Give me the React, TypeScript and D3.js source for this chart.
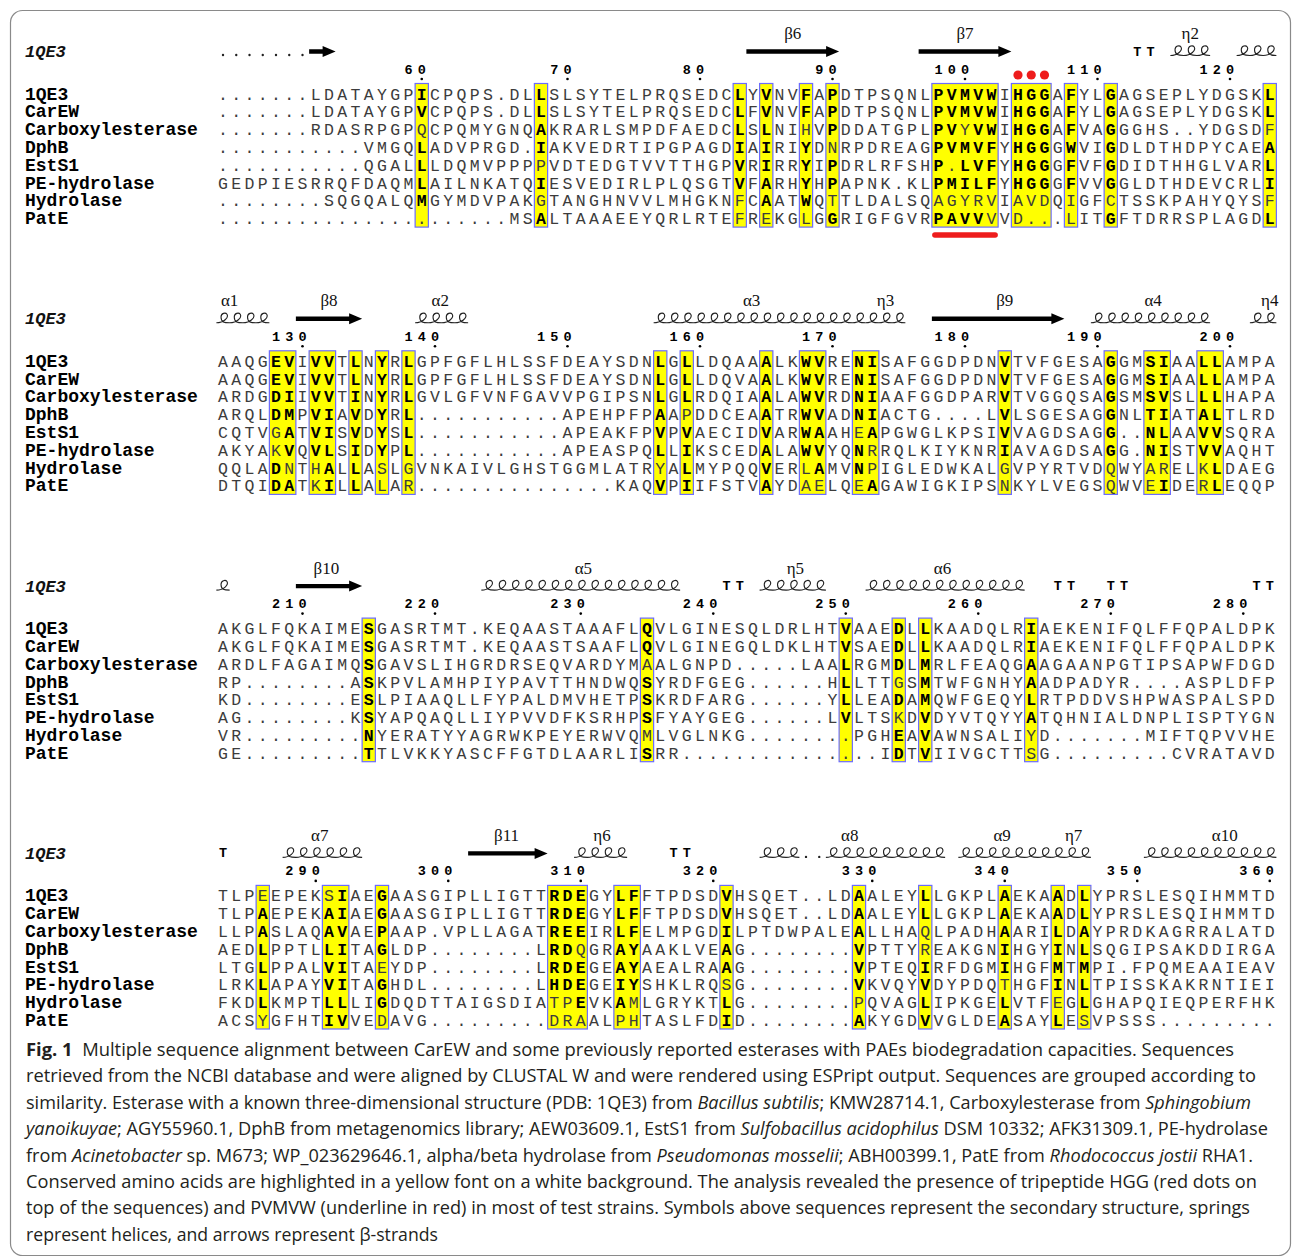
import React from "react";
import * as d3 from "d3";

// ---------- DATA ----------
const seqNames = ["1QE3", "CarEW", "Carboxylesterase", "DphB", "EstS1", "PE-hydrolase", "Hydrolase", "PatE"];

const block1Seqs = [
  ".......LDATAYGPICPQPS.DLLSLSYTELPRQSEDCLYVNVFAPDTPSQNLPVMVWIHGGAFYLGAGSEPLYDGSKL",
  ".......LDATAYGPVCPQPS.DLLSLSYTELPRQSEDCLFVNVFAPDTPSQNLPVMVWIHGGAFYLGAGSEPLYDGSKL",
  ".......RDASRPGPQCPQMYGNQAKRARLSMPDFAEDCLSLNIHVPDDATGPLPVYVWIHGGAFVAGGGHS..YDGSDF",
  "...........VMGQLADVPRGD.IAKVEDRTIPGPAGDIAIRIYDNRPDREAGPVMVFYHGGGWVIGDLDTHDPYCAEA",
  "...........QGALLLDQMVPPPPVDTEDGTVVTTHGPVRIRRYIPDRLRFSHP.LVFYHGGGFVFGDIDTHHGLVARL",
  "GEDPIESRRQFDAQMLAILNKATQIESVEDIRLPLQSGTVFARHYHPAPNK.KLPMILFYHGGGFVVGGLDTHDEVCRLI",
  "........SQGQALQMGYMDVPAKGTANGHNVVLMHGKNFCAATWQTTLDALSQAGYRVIAVDQIGFCTSSKPAHYQYSF",
  "......................MSALTAAAEEYQRLRTEFREKGLGGRIGFGVRPAVVVVD...LITGFTDRRSPLAGDL",
];
const block2Seqs = [
  "AAQGEVIVVTLNYRLGPFGFLHLSSFDEAYSDNLGLLDQAAALKWVRENISAFGGDPDNVTVFGESAGGMSIAALLAMPA",
  "AAQGEVIVVTLNYRLGPFGFLHLSSFDEAYSDNLGLLDQVAALKWVRENISAFGGDPDNVTVFGESAGGMSIAALLAMPA",
  "ARDGDIIVVTINYRLGVLGFVNFGAVVPGIPSNLGLRDQIAALAWVRDNIAAFGGDPARVTVGGQSAGSMSVSLLLHAPA",
  "ARQLDMPVIAVDYRL...........APEHPFPAAPDDCEAATRWVADNIACTG....LVLSGESAGGNLTIATALTLRD",
  "CQTVGATVISVDYSL...........APEAKFPVPVAECIDVARWAAHEAPGWGLKPSIVVAGDSAGG..NLAAVVSQRA",
  "AKYAKVQVLSIDYPL...........APEASPQLLIKSCEDALAWVYQNRRQLKIYKNRIAVAGDSAGG.NISTVVAQHT",
  "QQLADNTHALLASLGVNKAIVLGHSTGGMLATRYALMYPQQVERLAMVNPIGLEDWKALGVPYRTVDQWYARELKLDAEG",
  "DTQIDATKILLALAR...............KAQVPIIFSTVAYDAELQEAGAWIGKIPSNKYLVEGSQWVEIDERLEQQP",
];
const block3Seqs = [
  "AKGLFQKAIMESGASRTMT.KEQAASTAAAFLQVLGINESQLDRLHTVAAEDLLKAADQLRIAEKENIFQLFFQPALDPK",
  "AKGLFQKAIMESGASRTMT.KEQAASTSAAFLQVLGINEGQLDKLHTVSAEDLLKAADQLRIAEKENIFQLFFQPALDPK",
  "ARDLFAGAIMQSGAVSLIHGRDRSEQVARDYMAALGNPD.....LAALRGMDLMRLFEAQGAAGAANPGTIPSAPWFDGD",
  "RP........ASKPVLAMHPIYPAVTTHNDWQSYRDFGEG......HLLTTGSMTWFGNHYAADPADYR....ASPLDFP",
  "KD........ESLPIAAQLLFYPALDMVHETPSKRDFARG......YLLEADAMQWFGEQYLRTPDDVSHPWASPALSPD",
  "AG........KSYAPQAQLLIYPVVDFKSRHPSFYAYGEG......LVLTSKDVDYVTQYYATQHNIALDNPLISPTYGN",
  "VR.........NYERATYYAGRWKPEYERWVQMLVGLNKG........PGHEAVAWNSALIYD.......MIFTQPVVHE",
  "GE.........TTLVKKYASCFFGTDLAARLISRR...............IDTVIIVGCTTSG.........CVRATAVD",
];
const block4Seqs = [
  "TLPEEPEKSIAEGAASGIPLLIGTTRDEGYLFFTPDSDVHSQET..LDAALEYLLGKPLAEKAADLYPRSLESQIHMMTD",
  "TLPAEPEKAIAEGAASGIPLLIGTTRDEGYLFFTPDSDVHSQET..LDAALEYLLGKPLAEKAADLYPRSLESQIHMMTD",
  "LLPASLAQAVAEPAAP.VPLLAGATREEIRLFELMPGDILPTDWPALEALLHAQLPADHAARILDAYPRDKAGRRALATD",
  "AEDLPPTLLITAGLDP........LRDQGRAYAAKLVEAG........VPTTYREAKGNIHGYINLSQGIPSAKDDIRGA",
  "LTGLPPALVITAEYDP........LRDEGEAYAEALRAAG........VPTEQIRFDGMIHGFMTMPI.FPQMEAAIEAV",
  "LRKLAPAYVITAGHDL........LHDEGEIYSHKLRQSG........VKVQYVDYPDQTHGFINLTPISSKAKRNTIEI",
  "FKDLKMPTLLLIGDQDTTAIGSDIATPEVKAMLGRYKTLG........PQVAGLIPKGELVTFEGLGHAPQIEQPERFHK",
  "ACSYGFHTIVVEDAVG.........DRAALPHTASLFDID........AKYGDVVGLDEASAYLESVPSSS.........",
];

// first 1QE3 residue number of each block
const blockStarts = [52, 124, 204, 283];

// conserved boxes: [fromCol, toCol, bold flags per sequence]
const block1Boxes: [number, number, string][] = [
  [16, 16, "1 1 0 1 1 1 1 0"],
  [25, 25, "1 1 1 1 0 1 0 1"],
  [40, 40, "1 1 1 1 1 1 0 0"],
  [42, 42, "1 1 1 1 1 1 1 0"],
  [45, 45, "1 1 0 1 1 1 1 0"],
  [47, 47, "1 1 1 0 1 1 0 1"],
  [55, 59, "11111 11111 11011 11111 10111 11111 00000 11110"],
  [61, 63, "111 111 111 111 111 111 000 000"],
  [65, 65, "1 1 1 1 1 1 0 0"],
  [68, 68, "1 1 1 1 1 1 0 1"],
  [80, 80, "1 1 0 1 1 1 0 1"],
];
const block2Boxes: [number, number, string][] = [
  [5, 6, "11 11 11 11 01 01 10 11"],
  [8, 9, "11 11 11 11 11 11 01 01"],
  [11, 11, "1 1 1 1 1 1 1 1"],
  [13, 13, "1 1 1 1 1 1 0 0"],
  [15, 15, "1 1 1 1 1 1 0 0"],
  [34, 34, "1 1 1 1 1 1 0 1"],
  [36, 36, "1 1 1 0 1 1 1 1"],
  [42, 42, "1 1 1 1 1 1 1 1"],
  [45, 46, "11 11 11 11 11 11 01 00"],
  [49, 50, "11 11 11 11 01 10 10 01"],
  [60, 60, "1 1 1 1 1 1 0 0"],
  [68, 68, "1 1 1 1 1 1 0 0"],
  [71, 72, "11 11 11 11 11 11 00 01"],
  [75, 76, "11 11 11 11 11 11 01 01"],
];
const block3Boxes: [number, number, string][] = [
  [12, 12, "1 1 1 1 1 1 1 1"],
  [33, 33, "1 1 0 1 1 1 0 1"],
  [48, 48, "1 1 1 1 1 1 0 0"],
  [52, 52, "1 1 1 0 1 0 1 1"],
  [54, 54, "1 1 1 1 1 1 1 1"],
  [62, 62, "1 1 1 1 1 1 0 0"],
];
const block4Boxes: [number, number, string][] = [
  [4, 4, "0 1 1 1 1 1 1 0"],
  [9, 10, "01 11 11 11 11 11 11 11"],
  [13, 13, "1 1 1 1 0 1 1 0"],
  [26, 28, "111 111 111 110 111 111 001 000"],
  [31, 32, "11 11 11 11 11 11 10 00"],
  [39, 39, "1 1 1 1 1 0 1 1"],
  [49, 49, "1 1 1 1 1 1 0 1"],
  [54, 54, "1 1 0 0 1 1 1 1"],
  [60, 60, "1 1 1 1 1 0 1 1"],
  [64, 64, "1 1 1 1 1 1 0 1"],
  [66, 66, "1 1 1 1 1 1 1 0"],
];

// secondary structure of 1QE3: [type, fromCol, toCol, label?, labelCol?]
type SS = [string, number, number, string?, number?];
const block1SS: SS[] = [
  ["dots", 1, 7],
  ["arrow", 8, 9],
  ["arrow", 41, 47, "β6", 44],
  ["arrow", 54, 60, "β7", 57],
  ["turn", 70, 71],
  ["helix", 73, 75, "η2", 74],
  ["helix", 78, 80],
];
const block2SS: SS[] = [
  ["helix", 1, 4, "α1", 1.5],
  ["arrow", 7, 11, "β8", 9],
  ["helix", 16, 19, "α2", 17.4],
  ["helix", 34, 49, "α3", 40.9],
  ["helix", 50, 52, "η3", 51],
  ["arrow", 55, 64, "β9", 60],
  ["helix", 67, 75, "α4", 71.2],
  ["helix", 79, 80, "η4", 80],
];
const block3SS: SS[] = [
  ["helix", 1, 1],
  ["arrow", 7, 11, "β10", 8.8],
  ["helix", 21, 35, "α5", 28.2],
  ["turn", 39, 40],
  ["helix", 42, 46, "η5", 44.2],
  ["helix", 50, 61, "α6", 55.3],
  ["turn", 64, 65],
  ["turn", 68, 69],
  ["turn", 79, 80],
];
const block4SS: SS[] = [
  ["turn", 1, 1],
  ["helix", 6, 11, "α7", 8.3],
  ["arrow", 20, 25, "β11", 22.4],
  ["helix", 28, 31, "η6", 29.6],
  ["turn", 35, 36],
  ["helix", 42, 44],
  ["dots", 45, 46],
  ["helix", 47, 55, "α8", 48.3],
  ["helix", 57, 63, "α9", 59.8],
  ["helix", 64, 66, "η7", 65.2],
  ["helix", 71, 80, "α10", 76.6],
];

// motif marks (block 1)
const hggCols = [61, 62, 63];
const pvmvwCols = [55, 59];

const captionLines: [string, string][][] = [
  [["b", "Fig. 1"], ["n", "  Multiple sequence alignment between CarEW and some previously reported esterases with PAEs biodegradation capacities. Sequences"]],
  [["n", "retrieved from the NCBI database and were aligned by CLUSTAL W and were rendered using ESPript output. Sequences are grouped according to"]],
  [["n", "similarity. Esterase with a known three-dimensional structure (PDB: 1QE3) from "], ["i", "Bacillus subtilis"], ["n", "; KMW28714.1, Carboxylesterase from "], ["i", "Sphingobium"]],
  [["i", "yanoikuyae"], ["n", "; AGY55960.1, DphB from metagenomics library; AEW03609.1, EstS1 from "], ["i", "Sulfobacillus acidophilus"], ["n", " DSM 10332; AFK31309.1, PE-hydrolase"]],
  [["n", "from "], ["i", "Acinetobacter"], ["n", " sp. M673; WP_023629646.1, alpha/beta hydrolase from "], ["i", "Pseudomonas mosselii"], ["n", "; ABH00399.1, PatE from "], ["i", "Rhodococcus jostii"], ["n", " RHA1."]],
  [["n", "Conserved amino acids are highlighted in a yellow font on a white background. The analysis revealed the presence of tripeptide HGG (red dots on"]],
  [["n", "top of the sequences) and PVMVW (underline in red) in most of test strains. Symbols above sequences represent the secondary structure, springs"]],
  [["n", "represent helices, and arrows represent β-strands"]],
];

// ---------- LAYOUT ----------
const W = 1293, H = 1257;
const X0 = 223, DX = 13.25;
const colX = d3.scaleLinear().domain([1, 80]).range([X0, X0 + 79 * DX]);
const rowY = d3.scaleLinear().domain([0, 7]).range([94, 94 + 7 * 17.8]);
const blockY = d3.scaleLinear().domain([0, 3]).range([0, 3 * 267.3]);
const capY = d3.scaleLinear().domain([0, 7]).range([1056, 1056 + 7 * 26.4]);
const captionEnds = [1234, 1256, 1251, 1268, 1253, 1257, 1250, 438];

const MONO = "'Liberation Mono', 'DejaVu Sans Mono', monospace";
const SERIF = "'Liberation Serif', 'DejaVu Serif', serif";
const SANS = "'Open Sans', 'Noto Sans', sans-serif";
const RED = "#ee1c1c";

const blocks = [
  { seqs: block1Seqs, boxes: block1Boxes, ss: block1SS },
  { seqs: block2Seqs, boxes: block2Boxes, ss: block2SS },
  { seqs: block3Seqs, boxes: block3Boxes, ss: block3SS },
  { seqs: block4Seqs, boxes: block4Boxes, ss: block4SS },
];

// cursive "l"-like loops, one per residue
function helixPath(c0: number, c1: number, yb: number, h: number) {
  const w = DX;
  const p = d3.path();
  const x0 = colX(c0) - w / 2;
  p.moveTo(x0, yb);
  for (let i = 0; i <= c1 - c0; i++) {
    const xl = x0 + i * w;
    p.bezierCurveTo(xl + 0.55 * w, yb, xl + 0.95 * w, yb - 0.55 * h, xl + 0.8 * w, yb - 0.9 * h);
    p.bezierCurveTo(xl + 0.7 * w, yb - 1.1 * h, xl + 0.35 * w, yb - 1.05 * h, xl + 0.35 * w, yb - 0.6 * h);
    p.bezierCurveTo(xl + 0.35 * w, yb - 0.05 * h, xl + 0.6 * w, yb, xl + w, yb);
  }
  return p.toString();
}

function arrowPoints(c0: number, c1: number, y: number) {
  const xa = colX(c0) - DX / 2;
  const xb = colX(c1) + DX / 2;
  const hl = 13, hw = 5.5, sw = 2.2;
  return [
    [xa, y - sw], [xb - hl, y - sw], [xb - hl, y - hw], [xb, y],
    [xb - hl, y + hw], [xb - hl, y + sw], [xa, y + sw],
  ].map((p) => p.join(",")).join(" ");
}

function Block({ b }: { b: number }) {
  const { seqs, boxes, ss } = blocks[b];
  const off = blockY(b);
  const bold = new Set<string>();
  boxes.forEach(([c0, c1, pat]) => {
    pat.split(" ").forEach((g, r) => {
      for (let c = c0; c <= c1; c++) if (g[c - c0] === "1") bold.add(r + "-" + c);
    });
  });
  // numbering follows 1QE3 residues
  const ticks: { c: number; n: number }[] = [];
  let res = blockStarts[b];
  for (let c = 1; c <= 80; c++) {
    if (seqs[0][c - 1] !== ".") {
      if (res % 10 === 0) ticks.push({ c, n: res });
      res++;
    }
  }
  const boxTop = off + rowY(0) - 10.5;
  const boxH = rowY(7) - rowY(0) + 19;
  return (
    <g>
      <text x={25} y={off + 57} fontFamily={MONO} fontSize={17} fontWeight="bold" fontStyle="italic" fill="#111">1QE3</text>
      {ss.map(([t, c0, c1, label, lc], i) => (
        <g key={i}>
          {t === "helix" && (
            <path d={helixPath(c0, c1, off + 55.5, 9.5)} fill="none" stroke="#222" strokeWidth={1.1} />
          )}
          {t === "arrow" && <polygon points={arrowPoints(c0, c1, off + 51.5)} fill="#000" />}
          {t === "turn" && d3.range(c0, c1 + 1).map((c) => (
            <text key={c} x={colX(c)} y={off + 55.5} textAnchor="middle" fontFamily={MONO} fontSize={13.5} fontWeight="bold" fill="#000">T</text>
          ))}
          {t === "dots" && d3.range(c0, c1 + 1).map((c) => (
            <circle key={c} cx={colX(c)} cy={off + 55} r={1.2} fill="#222" />
          ))}
          {label && (
            <text x={colX(lc as number)} y={off + 39} textAnchor="middle" fontFamily={SERIF} fontSize={17} fill="#111">{label}</text>
          )}
        </g>
      ))}
      {ticks.map(({ c, n }) => {
        const s = String(n);
        return (
          <g key={c}>
            {s.split("").map((d, k) => (
              <text key={k} x={colX(c - s.length + 1 + k)} y={off + 73.5} textAnchor="middle" fontFamily={MONO} fontSize={13.5} fontWeight="bold" fill="#000">{d}</text>
            ))}
            <circle cx={colX(c)} cy={off + 79} r={1.3} fill="#000" />
          </g>
        );
      })}
      {boxes.map(([c0, c1], i) => (
        <rect key={i} x={colX(c0) - DX / 2} y={boxTop} width={(c1 - c0 + 1) * DX} height={boxH}
          fill="#ffff00" stroke="#6b6bff" strokeWidth={1.2} />
      ))}
      {seqs.map((s, r) => (
        <g key={r}>
          <text x={25} y={off + rowY(r) + 5.5} fontFamily={MONO} fontSize={18} fontWeight="bold" fill="#000">{seqNames[r]}</text>
          {s.split("").map((ch, k) => {
            const isB = bold.has(r + "-" + (k + 1));
            return (
              <text key={k} x={colX(k + 1)} y={off + rowY(r) + 5.5} textAnchor="middle" fontFamily={MONO}
                fontSize={16.5} fontWeight={isB ? "bold" : "normal"} fill={isB ? "#000" : "#3c3c3c"}>{ch}</text>
            );
          })}
        </g>
      ))}
      {b === 0 && (
        <g>
          {hggCols.map((c) => (
            <circle key={c} cx={colX(c)} cy={off + 75} r={4.6} fill={RED} />
          ))}
          <line x1={colX(pvmvwCols[0]) - DX / 2 + 3} x2={colX(pvmvwCols[1]) + DX / 2 - 3} y1={off + 235} y2={off + 235}
            stroke={RED} strokeWidth={5.5} strokeLinecap="round" />
        </g>
      )}
    </g>
  );
}

export default function App() {
  return (
    <svg width={W} height={H} viewBox={`0 0 ${W} ${H}`} style={{ position: "absolute", left: 0, top: 0, background: "#fff" }}>
      <rect x={0} y={0} width={W} height={H} fill="#fff" />
      <rect x={10.5} y={10.5} width={1280} height={1245} rx={12} fill="none" stroke="#8a8a8a" strokeWidth={1.2} />
      {blocks.map((_, b) => <Block key={b} b={b} />)}
      {captionLines.map((segs, i) => (
        <text key={i} x={26} y={capY(i)} textLength={captionEnds[i] - 26} lengthAdjust="spacingAndGlyphs"
          fontFamily={SANS} fontSize={18} fill="#231f20" style={{ whiteSpace: "pre" }}>
          {segs.map(([st, tx], k) => (
            <tspan key={k} fontWeight={st === "b" ? "bold" : "normal"} fontStyle={st === "i" ? "italic" : "normal"}>{tx}</tspan>
          ))}
        </text>
      ))}
    </svg>
  );
}
